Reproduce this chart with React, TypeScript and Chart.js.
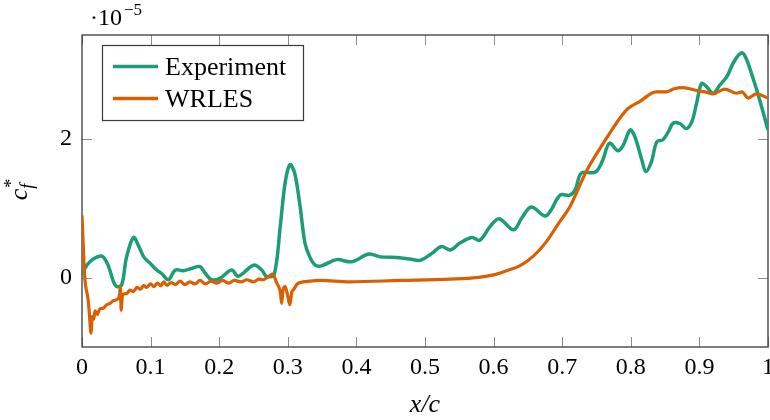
import React, { useEffect, useRef } from "react";
import { Chart, registerables } from "chart.js";

Chart.register(...registerables);

// x/c positions and c_f* values (in units of 1e-5)
const expX = [
  0, 0.007, 0.0165, 0.029, 0.038, 0.046, 0.051, 0.058, 0.065, 0.075, 0.082, 0.09, 0.099, 0.109, 0.116,
  0.126, 0.136, 0.148, 0.162, 0.172, 0.18, 0.189, 0.201, 0.218, 0.228, 0.25, 0.262, 0.269, 0.28, 0.289,
  0.296, 0.303, 0.31, 0.318, 0.325, 0.332, 0.34, 0.349, 0.371, 0.393, 0.418, 0.435, 0.459, 0.478, 0.493,
  0.51, 0.524, 0.537, 0.551, 0.568, 0.58, 0.595, 0.608, 0.629, 0.641, 0.655, 0.675, 0.684, 0.697, 0.711,
  0.719, 0.728, 0.748, 0.758, 0.769, 0.781, 0.789, 0.799, 0.806, 0.816, 0.822, 0.83, 0.838, 0.847, 0.855,
  0.862, 0.872, 0.881, 0.889, 0.896, 0.903, 0.91, 0.92, 0.93, 0.94, 0.949, 0.957, 0.963, 0.969, 0.979,
  0.988, 1.0,
];
const expY = [
  0.04, 0.18, 0.27, 0.31, 0.18, -0.06, -0.13, -0.1, 0.3, 0.58, 0.47, 0.3, 0.21, 0.11, 0.06,
  -0.03, 0.11, 0.1, 0.14, 0.16, 0.06, -0.03, -0.01, 0.11, 0.02, 0.18, 0.11, 0.02, 0.04, 0.74,
  1.36, 1.63, 1.51, 1.02, 0.5, 0.3, 0.18, 0.17, 0.26, 0.23, 0.34, 0.3, 0.29, 0.27, 0.25,
  0.35, 0.45, 0.4, 0.5, 0.58, 0.54, 0.74, 0.85, 0.69, 0.86, 1.02, 0.89, 0.98, 1.19, 1.19,
  1.27, 1.51, 1.52, 1.67, 1.94, 1.83, 1.91, 2.13, 2.03, 1.7, 1.53, 1.67, 1.96, 1.99, 2.11,
  2.23, 2.22, 2.15, 2.25, 2.52, 2.8, 2.76, 2.66, 2.78, 2.9, 3.09, 3.21, 3.24, 3.14, 2.85,
  2.56, 2.13,
];

const wrlesX = [
  0, 0.004, 0.009, 0.011, 0.013, 0.015, 0.017, 0.019, 0.022, 0.026, 0.031, 0.036, 0.041, 0.046, 0.053,
  0.055, 0.056, 0.057, 0.059, 0.065, 0.07, 0.075, 0.08, 0.085, 0.09, 0.094, 0.1, 0.105, 0.11, 0.115,
  0.119, 0.124, 0.13, 0.136, 0.143, 0.15, 0.157, 0.165, 0.172, 0.18, 0.188, 0.196, 0.205, 0.214, 0.222,
  0.232, 0.24, 0.25, 0.258, 0.264, 0.271, 0.278, 0.284, 0.289, 0.291, 0.293, 0.296, 0.299, 0.303, 0.306,
  0.308, 0.313, 0.318, 0.332, 0.347, 0.39, 0.464, 0.537, 0.575, 0.6, 0.619, 0.638, 0.658, 0.677, 0.696,
  0.711, 0.736, 0.76, 0.784, 0.796, 0.813, 0.837, 0.852, 0.862, 0.876, 0.896, 0.908, 0.92, 0.937, 0.954,
  0.962, 0.971, 0.983, 1.0,
];
const wrlesY = [
  0.9, 0.01, -0.32, -0.55, -0.8, -0.56, -0.6, -0.48, -0.53, -0.45, -0.44, -0.39, -0.37, -0.33, -0.3,
  -0.22, -0.13, -0.47, -0.25, -0.23, -0.18, -0.2, -0.14, -0.17, -0.11, -0.14, -0.09, -0.13, -0.08, -0.12,
  -0.06, -0.11, -0.07, -0.1, -0.05, -0.1, -0.06, -0.09, -0.04, -0.09, -0.05, -0.08, -0.04, -0.08, -0.04,
  -0.06, -0.03, -0.06, -0.02, -0.03, 0.01, 0.05, -0.08, -0.2, -0.37, -0.18, -0.13, -0.22, -0.39, -0.2,
  -0.18, -0.1, -0.07, -0.05, -0.04, -0.06, -0.04, -0.02, 0.0, 0.04, 0.1, 0.17, 0.31, 0.52, 0.8,
  1.02, 1.55, 1.94, 2.3, 2.44, 2.54, 2.68, 2.68, 2.72, 2.74, 2.7, 2.68, 2.65, 2.72, 2.66,
  2.68, 2.59, 2.65, 2.59,
];

const seriesLabels = ["Experiment", "WRLES"];
const seriesColors = ["#1b9e77", "#d95f02"];
const xTickValues = [0, 0.1, 0.2, 0.3, 0.4, 0.5, 0.6, 0.7, 0.8, 0.9, 1];
const yTickValues = [0, 2];

const SERIF = "'Liberation Serif', 'Times New Roman', serif";

const decorPlugin = {
  id: "decor",
  beforeDatasetsDraw(chart: any) {
    const { ctx, chartArea: a, scales } = chart;
    ctx.save();
    ctx.strokeStyle = "#8c8c8c";
    ctx.lineWidth = 1;
    ctx.beginPath();
    for (const v of xTickValues) {
      const px = Math.round(scales.x.getPixelForValue(v)) + 0.5;
      ctx.moveTo(px, a.bottom);
      ctx.lineTo(px, a.bottom - 10);
      ctx.moveTo(px, a.top);
      ctx.lineTo(px, a.top + 10);
    }
    for (const v of yTickValues) {
      const py = Math.round(scales.y.getPixelForValue(v)) + 0.5;
      ctx.moveTo(a.left, py);
      ctx.lineTo(a.left + 10, py);
      ctx.moveTo(a.right, py);
      ctx.lineTo(a.right - 10, py);
    }
    ctx.stroke();
    ctx.strokeStyle = "#3a3a3a";
    ctx.lineWidth = 1.3;
    ctx.strokeRect(a.left, a.top, a.right - a.left, a.bottom - a.top);
    ctx.restore();
  },
  afterDraw(chart: any) {
    const { ctx, chartArea: a } = chart;
    ctx.save();
    ctx.fillStyle = "#000";
    ctx.textBaseline = "alphabetic";
    ctx.textAlign = "left";
    ctx.font = `24px ${SERIF}`;
    ctx.fillText("·10", 90, 25);
    ctx.font = `17px ${SERIF}`;
    ctx.fillText("−5", 124, 15);

    ctx.font = `italic 26px ${SERIF}`;
    const xt = "x/c";
    const w = ctx.measureText(xt).width;
    ctx.fillText(xt, (a.left + a.right) / 2 - w / 2, 412);

    ctx.save();
    ctx.translate(27, (a.top + a.bottom) / 2);
    ctx.rotate(-Math.PI / 2);
    ctx.font = `italic 26px ${SERIF}`;
    const cw = ctx.measureText("c").width;
    ctx.font = `italic 18px ${SERIF}`;
    const fw = ctx.measureText("f").width;
    const total = cw + fw + 2;
    const x0 = -total / 2;
    ctx.font = `italic 26px ${SERIF}`;
    ctx.fillText("c", x0, 0);
    ctx.font = `18px ${SERIF}`;
    ctx.fillText("*", x0 + cw + 1, -10);
    ctx.font = `italic 18px ${SERIF}`;
    ctx.fillText("f", x0 + cw, 6);
    ctx.restore();

    const lx = 102, ly = 45, lw = 201, lh = 75;
    ctx.fillStyle = "#fff";
    ctx.fillRect(lx, ly, lw, lh);
    ctx.strokeStyle = "#3a3a3a";
    ctx.lineWidth = 1.2;
    ctx.strokeRect(lx + 0.5, ly + 0.5, lw, lh);
    const rows = [66.5, 98.5];
    chart.data.datasets.forEach((ds: any, i: number) => {
      ctx.strokeStyle = ds.borderColor;
      ctx.lineWidth = 3.5;
      ctx.beginPath();
      ctx.moveTo(113, rows[i]);
      ctx.lineTo(158, rows[i]);
      ctx.stroke();
      ctx.fillStyle = "#000";
      ctx.font = `26px ${SERIF}`;
      ctx.textBaseline = "alphabetic";
      ctx.fillText(ds.label, 165, rows[i] + 8);
    });
    ctx.restore();
  },
};

export default function App() {
  const ref = useRef<HTMLCanvasElement | null>(null);
  useEffect(() => {
    document.body.style.margin = "0";
    const canvas = ref.current!;
    const expData = expX.map((x, i) => ({ x, y: expY[i] }));
    const wrlesData = wrlesX.map((x, i) => ({ x, y: wrlesY[i] }));
    const chart = new Chart(canvas, {
      type: "line",
      data: {
        datasets: [
          {
            label: seriesLabels[0],
            data: expData,
            borderColor: seriesColors[0],
            backgroundColor: seriesColors[0],
            borderWidth: 3.5,
            pointRadius: 0,
            tension: 0.35,
            order: 1,
          },
          {
            label: seriesLabels[1],
            data: wrlesData,
            borderColor: seriesColors[1],
            backgroundColor: seriesColors[1],
            borderWidth: 3.2,
            pointRadius: 0,
            cubicInterpolationMode: "monotone",
            order: 0,
          },
        ],
      },
      options: {
        responsive: false,
        animation: false,
        devicePixelRatio: 1,
        layout: { padding: { left: 0, right: 2, top: 35, bottom: 0 } },
        plugins: { legend: { display: false }, tooltip: { enabled: false } },
        scales: {
          x: {
            type: "linear",
            min: 0,
            max: 1,
            grid: { display: false, drawTicks: false },
            border: { display: false },
            afterFit: (s: any) => {
              s.height = 73;
              s.paddingLeft = 0;
              s.paddingRight = 0;
            },
            afterBuildTicks: (s: any) => {
              s.ticks = xTickValues.map((v) => ({ value: v }));
            },
            ticks: {
              color: "#000",
              font: { family: SERIF, size: 24 },
              padding: 6,
              maxRotation: 0,
              autoSkip: false,
              callback: (v: any) => String(Number(Number(v).toFixed(1))),
            },
          },
          y: {
            type: "linear",
            min: -1,
            max: 3.5,
            grid: { display: false, drawTicks: false },
            border: { display: false },
            afterFit: (s: any) => {
              s.width = 82;
              s.paddingTop = 0;
              s.paddingBottom = 0;
            },
            afterBuildTicks: (s: any) => {
              s.ticks = yTickValues.map((v) => ({ value: v }));
            },
            ticks: {
              color: "#000",
              font: { family: SERIF, size: 24 },
              padding: 10,
              callback: (v: any) => String(v),
            },
          },
        },
      },
      plugins: [decorPlugin],
    });
    return () => chart.destroy();
  }, []);
  return (
    <div style={{ position: "absolute", left: 0, top: 0, width: 770, height: 420 }}>
      <canvas ref={ref} width={770} height={420} style={{ width: 770, height: 420 }} />
    </div>
  );
}
